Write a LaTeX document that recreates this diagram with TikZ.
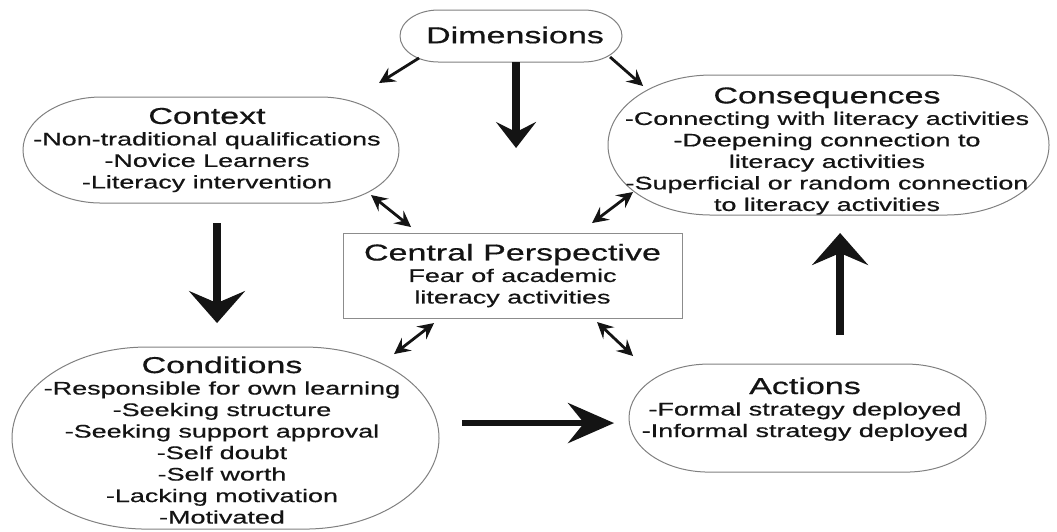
\documentclass[tikz,border=0pt]{standalone}
\usepackage{fontspec}
\setmainfont{Liberation Sans}[FakeBold=0.5]
\usetikzlibrary{arrows.meta,shapes.misc}
\newcommand\ttl[1]{{\fontsize{11.5}{10.75}\selectfont #1}}
\tikzset{
  oval/.style 2 args={rounded rectangle, draw=black!50, line width=.5pt, inner sep=0pt,
    minimum width=#1*0.3378pt, minimum height=#2*0.5pt},
  txt/.style={align=center, inner sep=0pt, text=black!92, font=\fontsize{9.1}{10.75}\selectfont},
  bigarrow/.style={line width=4pt, black!92, -{Stealth[length=16pt,width=28pt,inset=6pt]}},
  smallarrow/.style={line width=1.4pt, black!92, -{Stealth[length=8pt,width=8pt,inset=3pt]}},
  twoway/.style={smallarrow, {Stealth[length=8pt,width=8pt,inset=3pt]}-{Stealth[length=8pt,width=8pt,inset=3pt]}}
}
\begin{document}
\begin{tikzpicture}[x=0.3378pt, y=-0.5pt, xscale=1.48, transform shape]
\useasboundingbox (0,0) rectangle (1057,531);

\node[oval={222}{52}] (dimbox) at (511,36) {};
\node[txt] (dim) at (515,35) {\ttl{Dimensions}};

\node[oval={376}{106}] (ctxbox) at (211,150) {};
\node[txt] (ctx) at (207,150) {\ttl{Context}\\-Non-traditional qualifications\\-Novice Learners\\-Literacy intervention};

\node[oval={441}{140}] (consbox) at (828.5,145) {};
\node[txt] (cons) at (827,151) {\ttl{Consequences}\\-Connecting with literacy activities\\-Deepening connection to\\literacy activities\\-Superficial or random connection\\to literacy activities};

\node[txt, draw=black!45, line width=.5pt, minimum width=339*0.3378pt, minimum height=85*0.5pt] (central) at (512.5,275.5)
  {\ttl{Central Perspective}\\Fear of academic\\literacy activities};

\node[oval={427}{182}] (condbox) at (225.5,438) {};
\node[txt] (cond) at (222,440) {\ttl{Conditions}\\-Responsible for own learning\\-Seeking structure\\-Seeking support approval\\-Self doubt\\-Self worth\\-Lacking motivation\\-Motivated};

\node[oval={357}{108}] (actbox) at (807.5,418) {};
\node[txt] (act) at (805,409) {\ttl{Actions}\\-Formal strategy deployed\\-Informal strategy deployed};

% out of Dimensions
\coordinate (dimsw) at (419,58);  \coordinate (ctxne) at (379,83);
\coordinate (dimse) at (610,57);  \coordinate (consnw) at (643,86);
\coordinate (dims) at (516,62);   \coordinate (dimtip) at (516,148);
\draw[smallarrow] (dimsw) -- (ctxne);
\draw[smallarrow] (dimse) -- (consnw);
\draw[bigarrow, -{Stealth[length=13pt,width=20pt,inset=5pt]}] (dims) -- (dimtip);

% the cycle
\coordinate (ctxs) at (217,223);  \coordinate (condn) at (217,323);
\coordinate (conde) at (462,423); \coordinate (actw) at (614,423);
\coordinate (actn) at (840,335);  \coordinate (conss) at (840,233);
\draw[bigarrow] (ctxs) -- (condn);
\draw[bigarrow, line width=3.3pt, -{Stealth[length=23pt,width=20pt,inset=8pt]}] (conde) -- (actw);
\draw[bigarrow] (actn) -- (conss);

% to and from the centre
\coordinate (c1) at (371,195); \coordinate (c2) at (411,227);
\coordinate (c3) at (633,192); \coordinate (c4) at (592,223);
\coordinate (c5) at (394,354); \coordinate (c6) at (434,323);
\coordinate (c7) at (633,356); \coordinate (c8) at (597,322);
\draw[twoway] (c1) -- (c2);
\draw[twoway] (c3) -- (c4);
\draw[twoway] (c5) -- (c6);
\draw[twoway] (c7) -- (c8);
\end{tikzpicture}
\end{document}
